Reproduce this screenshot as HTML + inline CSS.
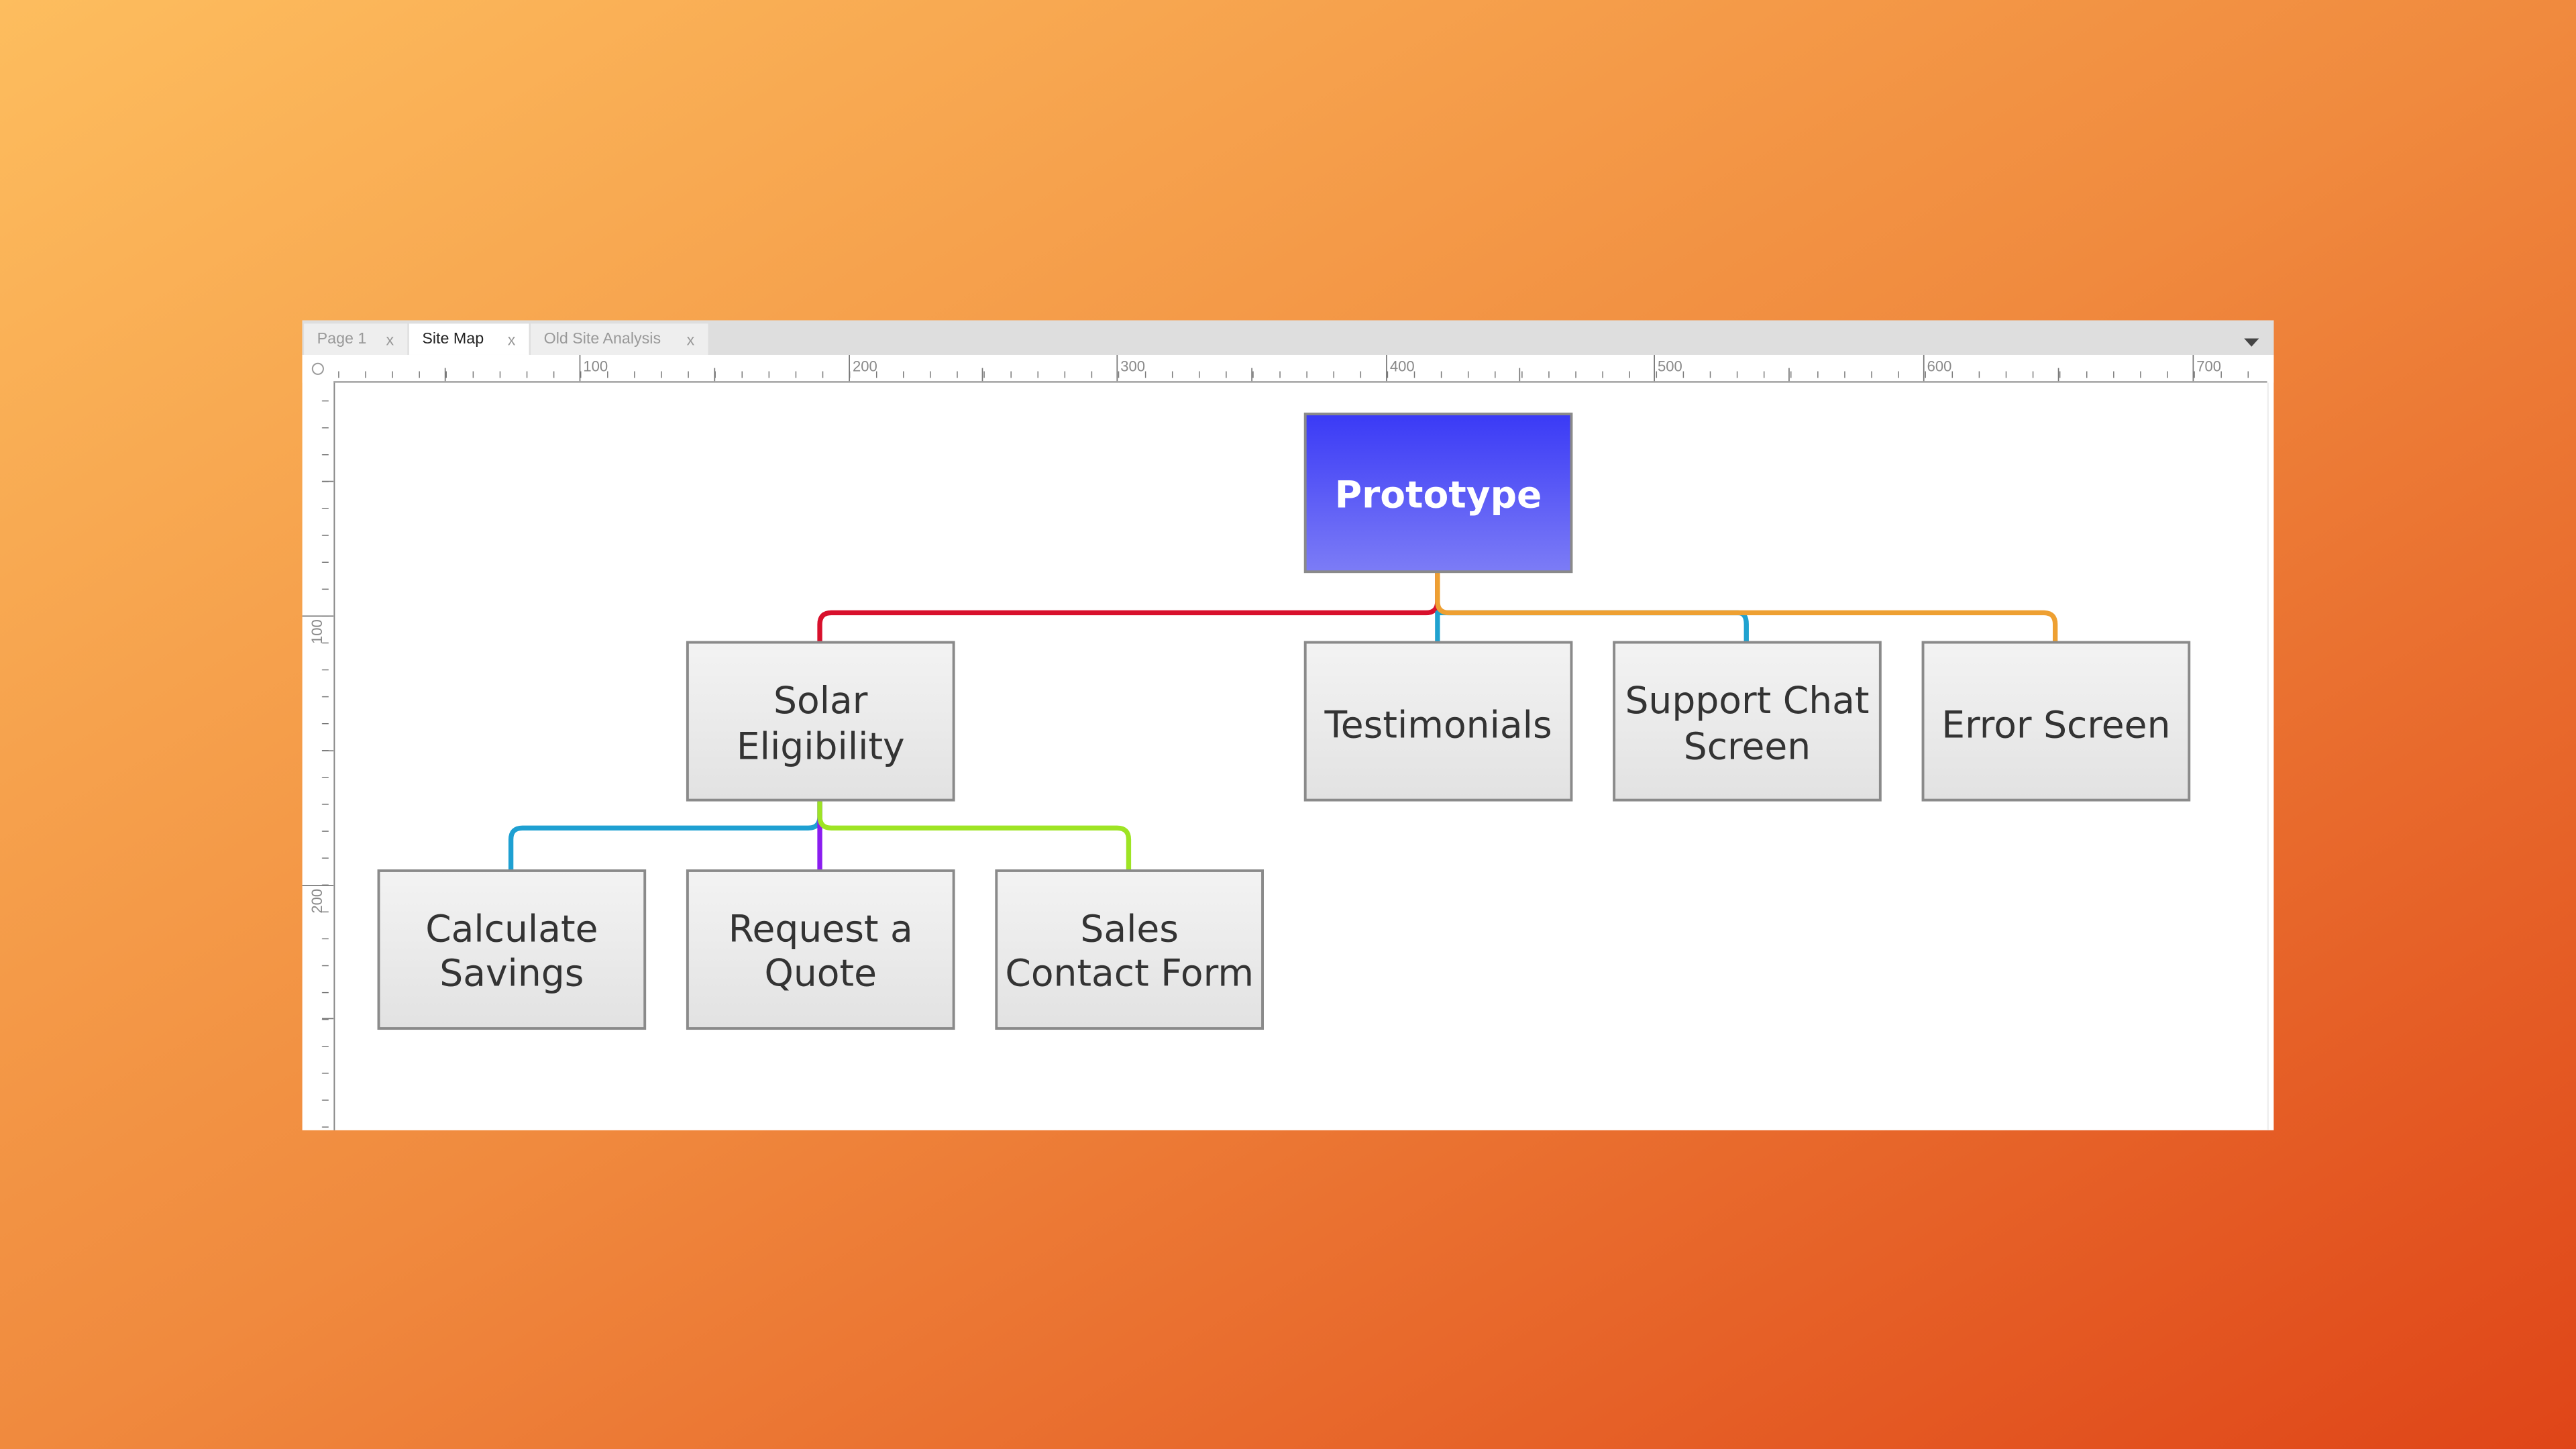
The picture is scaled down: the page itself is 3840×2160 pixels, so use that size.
<!DOCTYPE html>
<html><head><meta charset="utf-8"><style>
html,body{margin:0;padding:0;width:3840px;height:2160px;overflow:hidden;background:linear-gradient(to bottom right,#fdbd5e 0%,#f08a3e 50%,#df4518 100%);}
svg{display:block}
</style></head><body>
<svg width="3840" height="2160" viewBox="0 0 1568 882" xmlns="http://www.w3.org/2000/svg">
<defs>
<linearGradient id="gb" x1="0" y1="0" x2="0" y2="1"><stop offset="0" stop-color="#f3f3f3"/><stop offset="1" stop-color="#e2e2e2"/></linearGradient>
<linearGradient id="gp" x1="0" y1="0" x2="0" y2="1"><stop offset="0" stop-color="#3a3af6"/><stop offset="1" stop-color="#7c7cf6"/></linearGradient>
<pattern id="hx" x="189.5" y="0" width="16.37" height="10" patternUnits="userSpaceOnUse"><line x1="0.3" y1="6" x2="0.3" y2="10" stroke="#777" stroke-width="0.6"/></pattern>
<pattern id="vy" x="0" y="211" width="10" height="16.37" patternUnits="userSpaceOnUse"><line x1="6" y1="0.3" x2="10" y2="0.3" stroke="#777" stroke-width="0.6"/></pattern>
</defs>
<!-- window -->
<rect x="184" y="195" width="1200" height="493" fill="#fff"/>
<rect x="184" y="195" width="1200" height="21" fill="#dedede"/>
<rect x="185" y="197" width="63" height="19" fill="#eeeeee"/>
<rect x="249" y="197" width="73" height="19" fill="#fff"/>
<rect x="323" y="197" width="108" height="19" fill="#eeeeee"/>
<g font-family="Liberation Sans, sans-serif" font-size="9.5">
<text x="193" y="209" fill="#999">Page 1</text><text x="235" y="210" fill="#999">x</text>
<text x="257" y="209" fill="#222">Site Map</text><text x="309" y="210" fill="#999">x</text>
<text x="331" y="209" fill="#999">Old Site Analysis</text><text x="418" y="210" fill="#999">x</text>
</g>
<path d="M1366 206 L1375 206 L1370.5 211 Z" fill="#444"/>
<!-- top ruler -->
<rect x="184" y="216" width="1200" height="17" fill="#fff"/>
<rect x="203" y="222" width="1177" height="10" fill="url(#hx)"/>
<line x1="203" y1="232.5" x2="1380" y2="232.5" stroke="#888" stroke-width="0.8"/>
<g stroke="#777" stroke-width="0.7">
<line x1="353" y1="216" x2="353" y2="232"/><line x1="517" y1="216" x2="517" y2="232"/><line x1="680" y1="216" x2="680" y2="232"/><line x1="844" y1="216" x2="844" y2="232"/><line x1="1007" y1="216" x2="1007" y2="232"/><line x1="1171" y1="216" x2="1171" y2="232"/><line x1="1335" y1="216" x2="1335" y2="232"/>
<line x1="271" y1="224" x2="271" y2="232"/><line x1="435" y1="224" x2="435" y2="232"/><line x1="598" y1="224" x2="598" y2="232"/><line x1="762" y1="224" x2="762" y2="232"/><line x1="925" y1="224" x2="925" y2="232"/><line x1="1089" y1="224" x2="1089" y2="232"/><line x1="1253" y1="224" x2="1253" y2="232"/>
</g>
<g font-family="Liberation Sans, sans-serif" font-size="9" fill="#888">
<text x="355" y="226">100</text><text x="519" y="226">200</text><text x="682" y="226">300</text><text x="846" y="226">400</text><text x="1009" y="226">500</text><text x="1173" y="226">600</text><text x="1337" y="226">700</text>
</g>
<circle cx="193.5" cy="224.5" r="3.3" fill="none" stroke="#999" stroke-width="0.8"/>
<!-- left ruler -->
<rect x="194" y="233" width="9" height="455" fill="url(#vy)"/>
<line x1="203.5" y1="233" x2="203.5" y2="688" stroke="#888" stroke-width="0.8"/>
<g stroke="#777" stroke-width="0.7">
<line x1="184" y1="375" x2="203" y2="375"/><line x1="184" y1="539" x2="203" y2="539"/>
<line x1="196" y1="293" x2="203" y2="293"/><line x1="196" y1="457" x2="203" y2="457"/><line x1="196" y1="620" x2="203" y2="620"/>
</g>
<g font-family="Liberation Sans, sans-serif" font-size="9" fill="#888">
<text transform="translate(196,392) rotate(-90)">100</text>
<text transform="translate(196,556) rotate(-90)">200</text>
</g>
<line x1="1380.5" y1="233" x2="1380.5" y2="688" stroke="#eee" stroke-width="1"/>
<!-- connectors -->
<g fill="none" stroke-width="3" stroke-linecap="round">
<path d="M875 349 L875 366 Q875 373 868 373 L506 373 Q499 373 499 380 L499 391" stroke="#d8102c"/>
<path d="M875 373 L875 391" stroke="#20a2d0"/>
<path d="M875 373 Q876 373 1058 373 Q1063 373 1063 380 L1063 391" stroke="#20a2d0"/>
<path d="M875 349 L875 366 Q875 373 882 373 L1244 373 Q1251 373 1251 380 L1251 391" stroke="#eea032"/>
<path d="M499 488 L499 497 Q499 504 492 504 L318 504 Q311 504 311 511 L311 530" stroke="#1ea0d2"/>
<path d="M499 488 L499 530" stroke="#8b1df0"/>
<path d="M499 488 L499 497 Q499 504 506 504 L680 504 Q687 504 687 511 L687 530" stroke="#9ee424"/>
</g>
<!-- nodes -->
<g stroke="#8a8a8a" stroke-width="1.6">
<rect x="794.5" y="252" width="162" height="96" fill="url(#gp)"/>
<rect x="418.5" y="391" width="162" height="96" fill="url(#gb)"/>
<rect x="794.5" y="391" width="162" height="96" fill="url(#gb)"/>
<rect x="982.5" y="391" width="162" height="96" fill="url(#gb)"/>
<rect x="1170.5" y="391" width="162" height="96" fill="url(#gb)"/>
<rect x="230.5" y="530" width="162" height="96" fill="url(#gb)"/>
<rect x="418.5" y="530" width="162" height="96" fill="url(#gb)"/>
<rect x="606.5" y="530" width="162" height="96" fill="url(#gb)"/>
</g>
<g font-family="DejaVu Sans, sans-serif" font-size="22.5" fill="#333" text-anchor="middle">
<text x="875.5" y="309" fill="#fff" font-weight="bold">Prototype</text>
<text x="499.5" y="434">Solar</text><text x="499.5" y="462">Eligibility</text>
<text x="875.5" y="449">Testimonials</text>
<text x="1063.5" y="434">Support Chat</text><text x="1063.5" y="462">Screen</text>
<text x="1251.5" y="449">Error Screen</text>
<text x="311.5" y="573">Calculate</text><text x="311.5" y="600">Savings</text>
<text x="499.5" y="573">Request a</text><text x="499.5" y="600">Quote</text>
<text x="687.5" y="573">Sales</text><text x="687.5" y="600">Contact Form</text>
</g>
</svg>
</body></html>
